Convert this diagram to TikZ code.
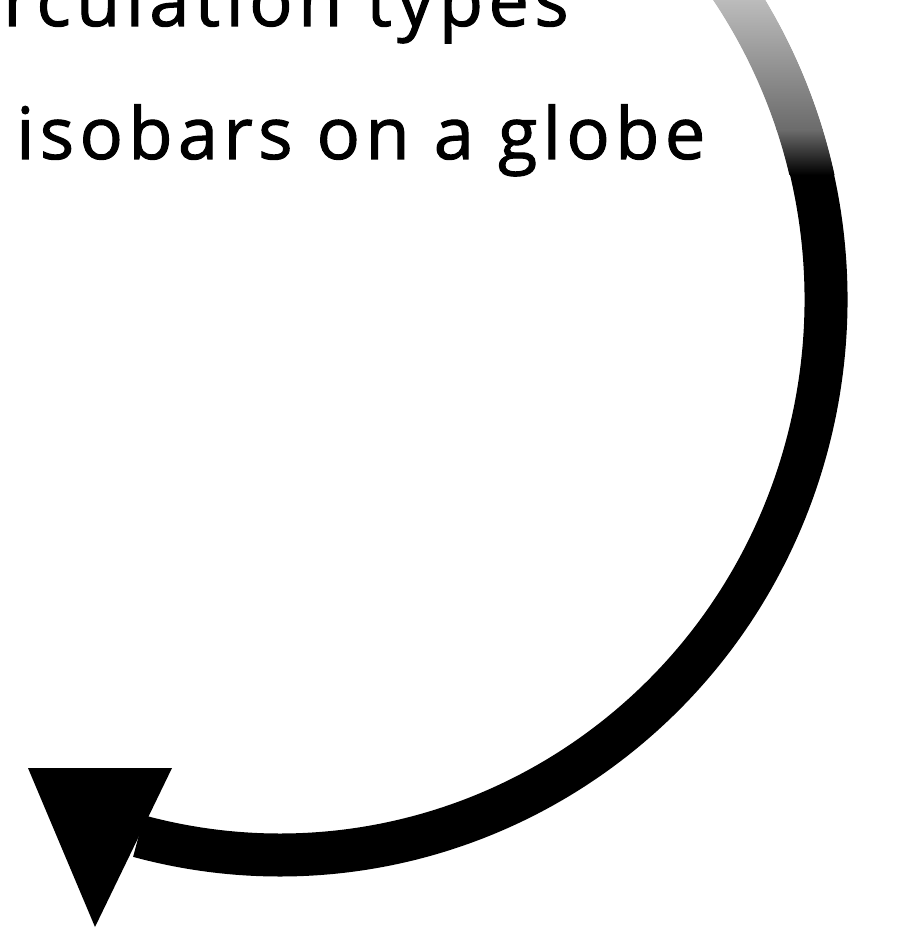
\documentclass[tikz,border=0pt]{standalone}
\usepackage{fontspec}
\setmainfont{Open Sans}[LetterSpace=7.5,FakeBold=1.5]
\usetikzlibrary{calc}

\begin{document}
\begin{tikzpicture}[x=1pt,y=1pt,
  lbl/.style={inner sep=0pt,anchor=base west,font=\fontsize{72}{80}\selectfont},
  band/.style={line width=43pt,black}]
\useasboundingbox (0,0) rectangle (912,-941);
\clip (0,0) rectangle (912,-941);
\node[lbl] (head) at (3,-26) {rculation types};
\node[lbl] (sub) at (16,-159) {isobars on a globe};
\coordinate (ctr) at (280,-300);
\draw[band] (ctr) ++(36:546 and 555) coordinate (top)
  arc[start angle=36,end angle=-105,x radius=546,y radius=555] coordinate (tail);
\begin{scope}
\clip (ctr) ++(37:568 and 577) arc[start angle=37,end angle=6,x radius=568,y radius=577]
  -- ($(ctr)+(6:524 and 533)$) arc[start angle=6,end angle=37,x radius=524,y radius=533] -- cycle;
\shade[top color=black!24,bottom color=black!58] (650,10) rectangle (912,-130);
\shade[top color=black!58,bottom color=black] (650,-130) rectangle (912,-175);
\end{scope}
\coordinate (tipL) at (28,-768);
\coordinate (tipR) at (172,-768);
\coordinate (tipB) at (95,-927);
\fill (tipL) -- (tipR) -- (tipB) -- cycle;
\end{tikzpicture}
\end{document}
